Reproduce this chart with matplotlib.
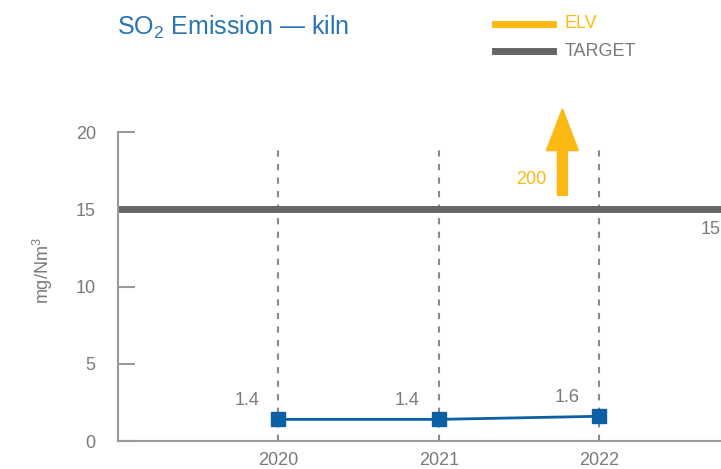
import matplotlib
matplotlib.use("Agg")
import matplotlib.pyplot as plt
from matplotlib.patches import FancyArrow

plt.rcParams['font.family'] = ['Liberation Sans', 'DejaVu Sans']
plt.rcParams['mathtext.fontset'] = 'custom'
plt.rcParams['mathtext.rm'] = 'Liberation Sans'
plt.rcParams['mathtext.it'] = 'Liberation Sans'

years = [2020, 2021, 2022]
so2_values = [1.4, 1.4, 1.6]
target_value = 15
elv_value = 200
y_ticks = [0, 5, 10, 15, 20]

BLUE = '#0b5fa5'
TITLE_BLUE = '#2a74b3'
ORANGE = '#fdb913'
DARK_GRAY = '#666666'
AXIS_GRAY = '#9a9a9a'
TEXT_GRAY = '#7a7a7a'

fig = plt.figure(figsize=(7.21, 4.69), dpi=100)
ax = fig.add_axes([0.1637, 0.0597, 0.890, 0.6588])
ax.set_xlim(2019, 2023)
ax.set_ylim(0, 20)

for s in ['top', 'right']:
    ax.spines[s].set_visible(False)
for s in ['left', 'bottom']:
    ax.spines[s].set_color(AXIS_GRAY)
    ax.spines[s].set_linewidth(1.5)

ax.set_yticks(y_ticks)
ax.tick_params(axis='y', direction='in', length=12, width=1.5, color=AXIS_GRAY,
               labelsize=13, labelcolor=TEXT_GRAY, pad=16)
ax.set_xticks(years)
ax.set_xticklabels([str(y) for y in years])
ax.tick_params(axis='x', length=0, labelsize=13, labelcolor=TEXT_GRAY, pad=8)

ax.set_ylabel('mg/Nm$^3$', fontsize=13, color=TEXT_GRAY)
ax.yaxis.set_label_coords(-0.099, 0.55)

# year guide lines
for yr in years:
    ax.plot([yr, yr], [0, 19.2], color='#8a8a8a', lw=1.5, ls=(0, (3, 3.5)),
            clip_on=False, zorder=1)

# target line
ax.axhline(target_value, color=DARK_GRAY, lw=5, zorder=2)
ax.text(2022.63, target_value - 0.75, str(target_value), fontsize=13,
        color=TEXT_GRAY, ha='left', va='top')

# ELV off-scale arrow
arrow_x = 2021.77
arrow = FancyArrow(arrow_x, 15.9, 0, 21.5 - 15.9, width=0.062, head_width=0.2,
                   head_length=2.7, length_includes_head=True,
                   color=ORANGE, clip_on=False, zorder=3)
ax.add_patch(arrow)
ax.text(arrow_x - 0.1, 16.9, str(elv_value), fontsize=13, color=ORANGE,
        ha='right', va='center')

# emission series
ax.plot(years, so2_values, color=BLUE, lw=2, marker='s', markersize=10,
        zorder=4, clip_on=False)
for yr, v in zip(years, so2_values):
    ax.text(yr - 0.12, v + 1.2, f'{v:.1f}', fontsize=13, color=TEXT_GRAY,
            ha='right', va='center')

# title
fig.text(117 / 721, 1 - 27 / 469, 'SO$_2$ Emission — kiln', fontsize=18,
         color=TITLE_BLUE, ha='left', va='center')

# legend
fig.add_artist(plt.Line2D([495 / 721, 553 / 721], [1 - 24 / 469] * 2,
                          color=ORANGE, lw=5))
fig.add_artist(plt.Line2D([495 / 721, 553 / 721], [1 - 51 / 469] * 2,
                          color=DARK_GRAY, lw=5))
fig.text(565 / 721, 1 - 24 / 469, 'ELV', fontsize=13, color=ORANGE,
         ha='left', va='center')
fig.text(565 / 721, 1 - 51 / 469, 'TARGET', fontsize=13, color=TEXT_GRAY,
         ha='left', va='center')

fig.savefig('out.png', dpi=100)
